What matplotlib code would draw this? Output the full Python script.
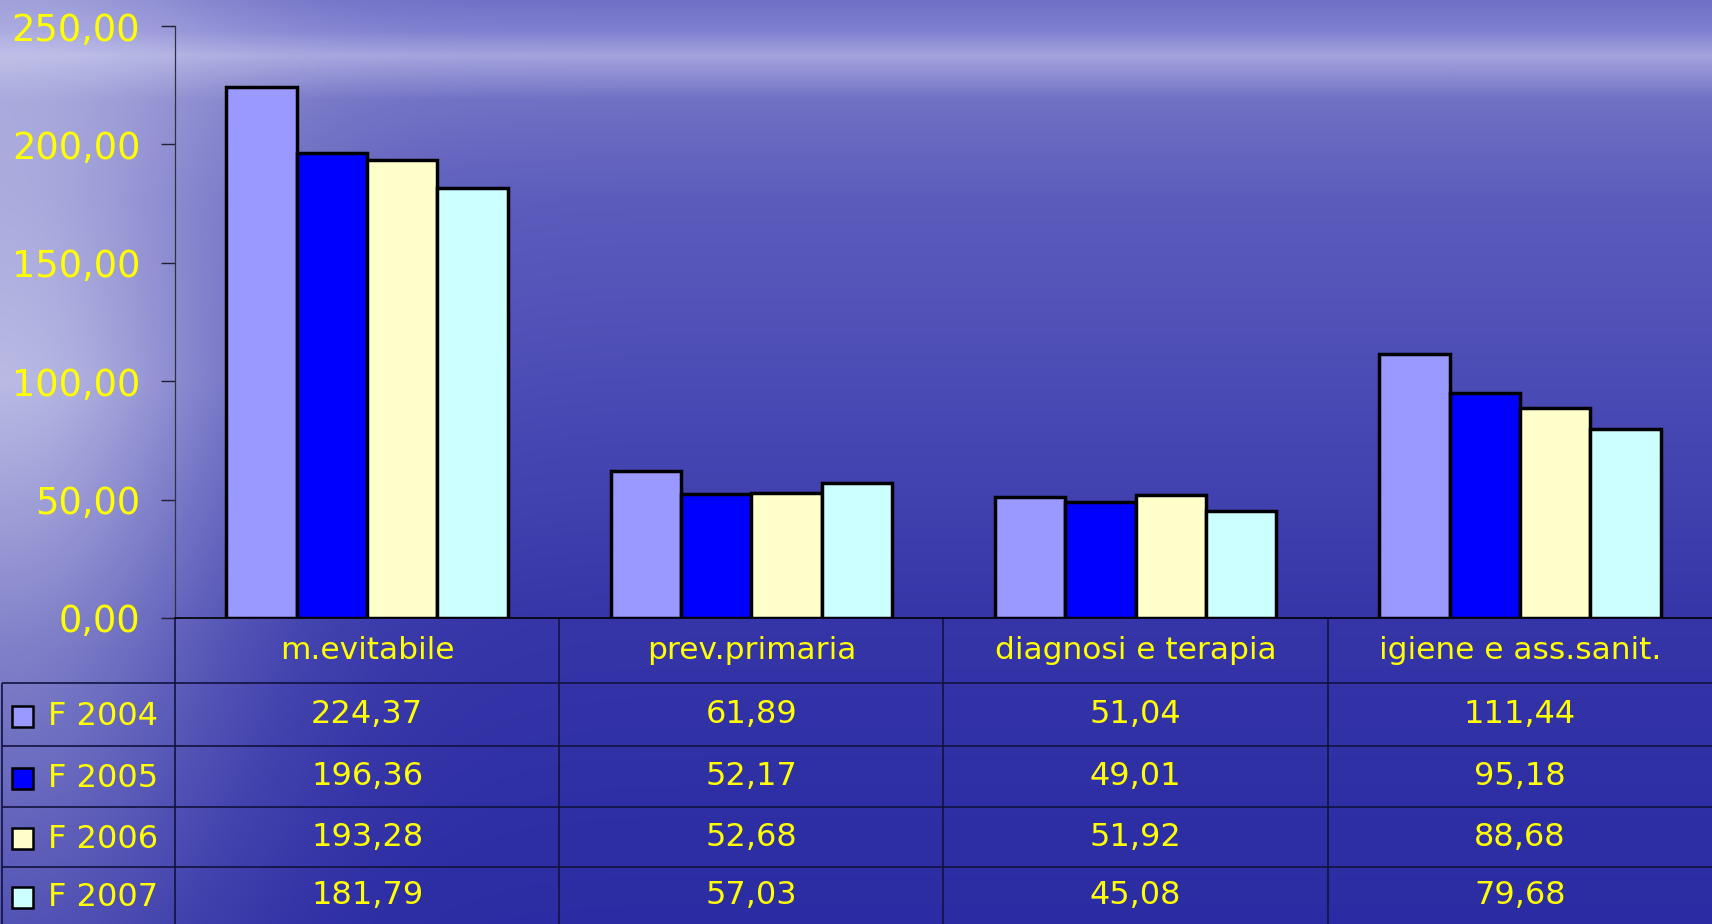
import numpy as np
import matplotlib.pyplot as plt
from matplotlib.patches import Rectangle

# Data
categories = ['m.evitabile', 'prev.primaria', 'diagnosi e terapia', 'igiene e ass.sanit.']
series = ['F 2004', 'F 2005', 'F 2006', 'F 2007']
f2004 = [224.37, 61.89, 51.04, 111.44]
f2005 = [196.36, 52.17, 49.01, 95.18]
f2006 = [193.28, 52.68, 51.92, 88.68]
f2007 = [181.79, 57.03, 45.08, 79.68]
values = [f2004, f2005, f2006, f2007]
yticks = [0, 50, 100, 150, 200, 250]

colors = ['#9999ff', '#0000ff', '#ffffcc', '#ccffff']
YELLOW = '#ffff00'
LINE = '#121240'

# Layout (pixels)
W, H = 1712, 924
AX_L, AX_TOP, AX_BOT = 175, 26, 618
ROWS = [618, 683, 746, 807, 867, 924]


def fmt(v):
    return f'{v:.2f}'.replace('.', ',')


# sea-like background: blue gradient, lighter on the left edge and along the horizon
yy, xx = np.mgrid[0:H, 0:W].astype(float)
ys = [0, 30, 55, 100, 200, 400, 620, 924]
base_r = [0.44, 0.50, 0.64, 0.44, 0.36, 0.29, 0.21, 0.17]
base_b = [0.78, 0.82, 0.87, 0.77, 0.74, 0.71, 0.66, 0.64]
r = np.interp(yy, ys, base_r)
b = np.interp(yy, ys, base_b)
base = np.dstack([r, r, b])
glow = 0.9 * np.exp(-(xx / 240.0) ** 2) * np.interp(yy, [0, 150, 380, 650, 924], [0.5, 0.65, 0.85, 0.5, 0.25])
light = np.array([0.86, 0.86, 0.95])
img = base * (1 - glow[..., None]) + light * glow[..., None]
img = np.clip(img, 0, 1)

fig = plt.figure(figsize=(W / 100, H / 100), dpi=100)
bg = fig.add_axes([0, 0, 1, 1], zorder=0)
bg.imshow(img, extent=[0, W, H, 0], aspect='auto', interpolation='bilinear')
bg.set_xlim(0, W)
bg.set_ylim(H, 0)
bg.axis('off')

ax = fig.add_axes([AX_L / W, (H - AX_BOT) / H, 1 - AX_L / W, (AX_BOT - AX_TOP) / H], zorder=2)
ax.patch.set_alpha(0)

x = np.arange(len(categories))
bw = 0.183
for j, (vals, c) in enumerate(zip(values, colors)):
    ax.bar(x + (j - 1.5) * bw, vals, bw, color=c, edgecolor='black', linewidth=2.5, zorder=3)

ax.set_xlim(-0.5, len(categories) - 0.5)
ax.set_ylim(0, 250)
ax.set_yticks(yticks)
ax.set_yticklabels([fmt(t) for t in yticks])
ax.set_xticks([])
ax.tick_params(axis='y', colors='#202030', labelcolor=YELLOW, labelsize=26.5,
               length=10, width=1, pad=15)
for lbl in ax.get_yticklabels():
    lbl.set_va('center_baseline')
for s in ['top', 'right']:
    ax.spines[s].set_visible(False)
ax.spines['left'].set_color('#303040')
ax.spines['left'].set_linewidth(0.9)
ax.spines['bottom'].set_color('black')
ax.spines['bottom'].set_linewidth(1.2)


# data table under the chart, columns aligned with the categories
def px(xd):
    return ax.transData.transform((xd, 0))[0]


col_edges = [px(i - 0.5) for i in range(len(categories) + 1)]
col_centers = [px(i) for i in range(len(categories))]

bg.vlines(col_edges[:-1], ROWS[0], H, color=LINE, lw=1.2)
bg.vlines([2], ROWS[1], H, color=LINE, lw=1.2)
bg.hlines(ROWS[1:-1], 2, W, color=LINE, lw=1.2)

for cat, cx in zip(categories, col_centers):
    bg.text(cx, (ROWS[0] + ROWS[1]) / 2, cat, ha='center', va='center',
            color=YELLOW, fontsize=22.5)

for j, (name, vals, c) in enumerate(zip(series, values, colors)):
    rc = (ROWS[j + 1] + ROWS[j + 2]) / 2
    bg.add_patch(Rectangle((12, rc - 9), 21, 21, facecolor=c, edgecolor='black', lw=1.8))
    bg.text(48, rc + 2, name, ha='left', va='center', color=YELLOW, fontsize=23)
    for cx, v in zip(col_centers, vals):
        bg.text(cx, rc, fmt(v), ha='center', va='center', color=YELLOW, fontsize=23)

plt.savefig('out.png', dpi=100)
